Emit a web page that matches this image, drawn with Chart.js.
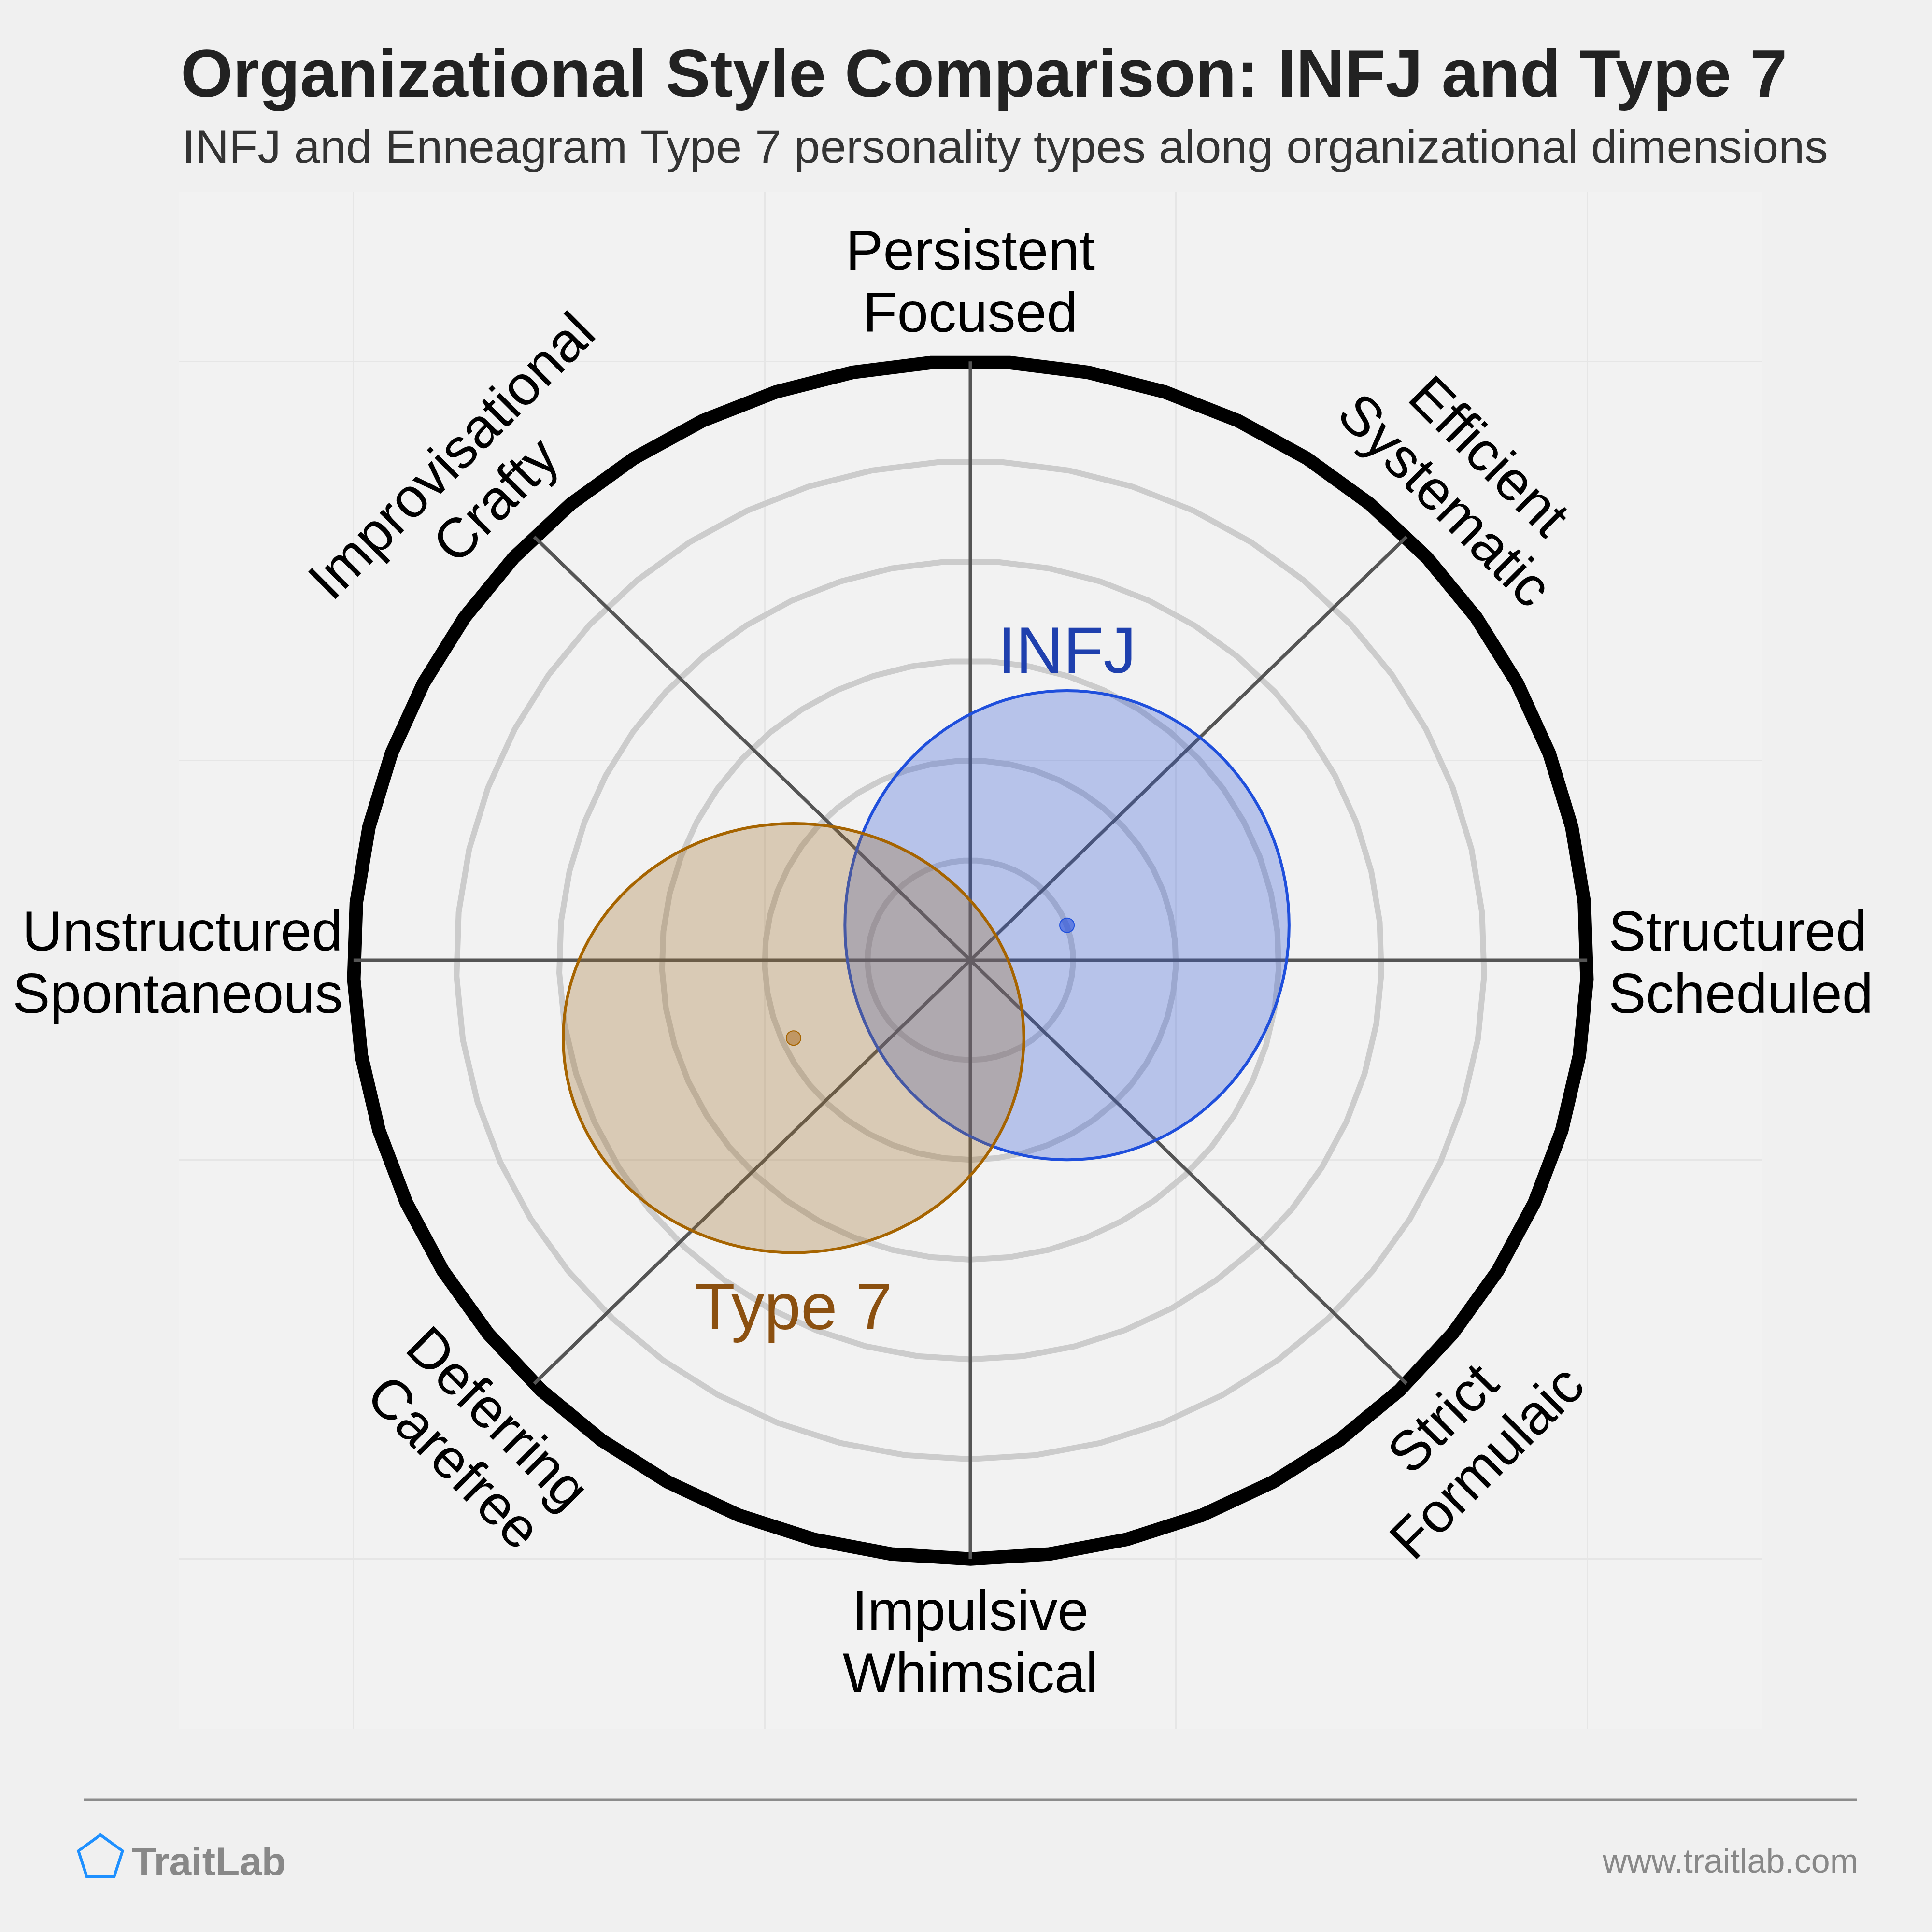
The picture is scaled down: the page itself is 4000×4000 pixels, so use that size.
<!DOCTYPE html>
<html>
<head>
<meta charset="utf-8">
<title>Organizational Style Comparison: INFJ and Type 7</title>
<script src="https://cdn.jsdelivr.net/npm/chart.js@4.4.1/dist/chart.umd.min.js"></script>
<style>
    html, body { margin: 0; padding: 0; background: #f0f0f0; }
    canvas { display: block; }
</style>
</head>
<body>
<canvas id="orgChart" width="4000" height="4000" style="width:4000px;height:4000px"></canvas>
<script>
const types = ['INFJ', 'Type 7'];
const centerX = [0.94, -1.72];
const centerY = [0.35, -0.78];
const spreadX = [2.16, 2.24];
const spreadY = [2.35, 2.15];

// one pair of words per spoke, counter-clockwise from the right
const axisLabels = [
    ['Structured', 'Scheduled'],
    ['Efficient', 'Systematic'],
    ['Persistent', 'Focused'],
    ['Improvisational', 'Crafty'],
    ['Unstructured', 'Spontaneous'],
    ['Deferring', 'Carefree'],
    ['Impulsive', 'Whimsical'],
    ['Strict', 'Formulaic']
];
const ringValues = [1, 2, 3, 4, 5, 6];
const gridTicks = [-6, -2, 2, 6];
const axisMin = -7.7;
const axisMax = 7.7;

const FONT = '"Liberation Sans", Arial, Helvetica, sans-serif';
const fillColors = ['rgba(45, 85, 215, 0.3)', 'rgba(160, 110, 40, 0.3)'];
const lineColors = ['#1f4fdc', '#a66400'];
const dotColors = ['rgba(40, 80, 220, 0.6)', 'rgba(168, 100, 20, 0.5)'];
const textColors = ['#1f40ae', '#8b5010'];
const ringSides = 49;
const outerRing = ringValues[ringValues.length - 1];

function deg(a) {
    return a * Math.PI / 180;
}

const radarPlugin = {
    id: 'radarPlugin',
    beforeDraw(chart) {
        const { ctx, chartArea: a } = chart;
        ctx.save();
        ctx.fillStyle = '#f0f0f0';
        ctx.fillRect(0, 0, chart.width, chart.height);
        ctx.fillStyle = '#f2f2f2';
        ctx.fillRect(a.left, a.top, a.right - a.left, a.bottom - a.top);
        ctx.restore();
    },
    beforeDatasetsDraw(chart) {
        const { ctx, scales: { x, y } } = chart;
        ctx.save();

        // rings
        ringValues.forEach(r => {
            ctx.beginPath();
            for (let k = 0; k <= ringSides; k++) {
                const t = deg(270 + k * 360 / ringSides);
                const px = x.getPixelForValue(r * Math.cos(t));
                const py = y.getPixelForValue(r * Math.sin(t));
                if (k === 0) ctx.moveTo(px, py); else ctx.lineTo(px, py);
            }
            ctx.closePath();
            ctx.strokeStyle = r === outerRing ? '#000000' : '#cccccc';
            ctx.lineWidth = r === outerRing ? 28 : 12;
            ctx.stroke();
        });

        // spokes
        ctx.strokeStyle = '#555555';
        ctx.lineWidth = 7;
        axisLabels.forEach((l, i) => {
            const t = deg(i * 45);
            ctx.beginPath();
            ctx.moveTo(x.getPixelForValue(0), y.getPixelForValue(0));
            ctx.lineTo(x.getPixelForValue(outerRing * Math.cos(t)), y.getPixelForValue(outerRing * Math.sin(t)));
            ctx.stroke();
        });

        // spread ellipses
        types.forEach((name, i) => {
            const cx = x.getPixelForValue(centerX[i]);
            const cy = y.getPixelForValue(centerY[i]);
            const rx = x.getPixelForValue(centerX[i] + spreadX[i]) - cx;
            const ry = cy - y.getPixelForValue(centerY[i] + spreadY[i]);
            ctx.beginPath();
            ctx.ellipse(cx, cy, rx, ry, 0, 0, Math.PI * 2);
            ctx.fillStyle = fillColors[i];
            ctx.fill();
            ctx.strokeStyle = lineColors[i];
            ctx.lineWidth = 6;
            ctx.stroke();
        });
        ctx.restore();
    },
    afterDatasetsDraw(chart) {
        const { ctx, scales: { x, y } } = chart;
        ctx.save();
        ctx.fillStyle = '#000000';
        ctx.font = '116px ' + FONT;
        const lh = 129;
        const x0 = x.getPixelForValue(0), y0 = y.getPixelForValue(0);

        axisLabels.forEach((lines, i) => {
            if (i % 2 === 0) {
                ctx.textBaseline = 'alphabetic';
                if (i === 0) {
                    ctx.textAlign = 'left';
                    const px = x.getPixelForValue(outerRing) + 44;
                    lines.forEach((s, j) => ctx.fillText(s, px, y0 - 20 + j * lh));
                } else if (i === 4) {
                    ctx.textAlign = 'right';
                    const px = x.getPixelForValue(-outerRing) - 22;
                    lines.forEach((s, j) => ctx.fillText(s, px, y0 - 20 + j * lh));
                } else if (i === 2) {
                    ctx.textAlign = 'center';
                    const py = y.getPixelForValue(outerRing) - 61 - lh;
                    lines.forEach((s, j) => ctx.fillText(s, x0, py + j * lh));
                } else {
                    ctx.textAlign = 'center';
                    const py = y.getPixelForValue(-outerRing) + 147;
                    lines.forEach((s, j) => ctx.fillText(s, x0, py + j * lh));
                }
            } else {
                const t = deg(i * 45);
                const d = 4.82 * Math.SQRT2;
                const px = x.getPixelForValue(d * Math.cos(t));
                const py = y.getPixelForValue(d * Math.sin(t));
                const rot = (i === 1 || i === 5) ? Math.PI / 4 : -Math.PI / 4;
                ctx.save();
                ctx.translate(px, py);
                ctx.rotate(rot);
                ctx.textAlign = 'center';
                ctx.textBaseline = 'alphabetic';
                ctx.fillText(lines[0], 0, -lh / 2 + 36);
                ctx.fillText(lines[1], 0, lh / 2 + 36);
                ctx.restore();
            }
        });

        // type names beside their ellipses
        ctx.font = '136px ' + FONT;
        ctx.textAlign = 'center';
        ctx.textBaseline = 'alphabetic';
        types.forEach((name, i) => {
            const cx = x.getPixelForValue(centerX[i]);
            ctx.fillStyle = textColors[i];
            if (i === 0) {
                ctx.fillText(name, cx, y.getPixelForValue(centerY[i] + spreadY[i]) - 37);
            } else {
                ctx.fillText(name, cx, y.getPixelForValue(centerY[i] - spreadY[i]) + 159);
            }
        });
        ctx.restore();
    },
    afterDraw(chart) {
        const ctx = chart.ctx;
        ctx.save();
        ctx.textBaseline = 'alphabetic';
        ctx.textAlign = 'left';
        ctx.fillStyle = '#222222';
        ctx.font = 'bold 139px ' + FONT;
        ctx.fillText('Organizational Style Comparison: INFJ and Type 7', 374, 200);
        ctx.fillStyle = '#333333';
        ctx.font = '97px ' + FONT;
        ctx.fillText('INFJ and Enneagram Type 7 personality types along organizational dimensions', 377, 337);

        // footer
        ctx.strokeStyle = '#8c8c8c';
        ctx.lineWidth = 5;
        ctx.beginPath();
        ctx.moveTo(173, 3726);
        ctx.lineTo(3844, 3726);
        ctx.stroke();

        ctx.strokeStyle = '#1e90ff';
        ctx.lineWidth = 6;
        ctx.beginPath();
        for (let k = 0; k < 5; k++) {
            const t = deg(-90 + k * 72);
            const px = 208 + 48 * Math.cos(t);
            const py = 3847 + 48 * Math.sin(t);
            if (k === 0) ctx.moveTo(px, py); else ctx.lineTo(px, py);
        }
        ctx.closePath();
        ctx.stroke();

        ctx.fillStyle = '#888888';
        ctx.font = 'bold 82px ' + FONT;
        ctx.fillText('TraitLab', 273, 3882);
        ctx.textAlign = 'right';
        ctx.font = '70px ' + FONT;
        ctx.fillText('www.traitlab.com', 3847, 3877);
        ctx.restore();
    }
};

const ctx = document.getElementById('orgChart').getContext('2d');

const orgChart = new Chart(ctx, {
    type: 'scatter',
    data: {
        datasets: types.map((name, i) => ({
            label: name,
            data: [{ x: centerX[i], y: centerY[i] }],
            pointRadius: 15,
            pointHoverRadius: 15,
            backgroundColor: dotColors[i],
            borderColor: lineColors[i],
            borderWidth: 2
        }))
    },
    options: {
        responsive: false,
        animation: false,
        devicePixelRatio: 1,
        layout: { padding: { left: 370, right: 352, top: 397, bottom: 421 } },
        plugins: {
            legend: { display: false },
            tooltip: { enabled: false }
        },
        scales: {
            x: {
                type: 'linear',
                min: axisMin,
                max: axisMax,
                afterBuildTicks: axis => { axis.ticks = gridTicks.map(v => ({ value: v })); },
                afterFit: axis => { axis.height = 0; },
                ticks: { display: false },
                grid: { color: '#e6e6e6', lineWidth: 3, drawTicks: false },
                border: { display: false }
            },
            y: {
                type: 'linear',
                min: axisMin,
                max: axisMax,
                afterBuildTicks: axis => { axis.ticks = gridTicks.map(v => ({ value: v })); },
                afterFit: axis => { axis.width = 0; },
                ticks: { display: false },
                grid: { color: '#e6e6e6', lineWidth: 3, drawTicks: false },
                border: { display: false }
            }
        }
    },
    plugins: [radarPlugin]
});
</script>
</body>
</html>
